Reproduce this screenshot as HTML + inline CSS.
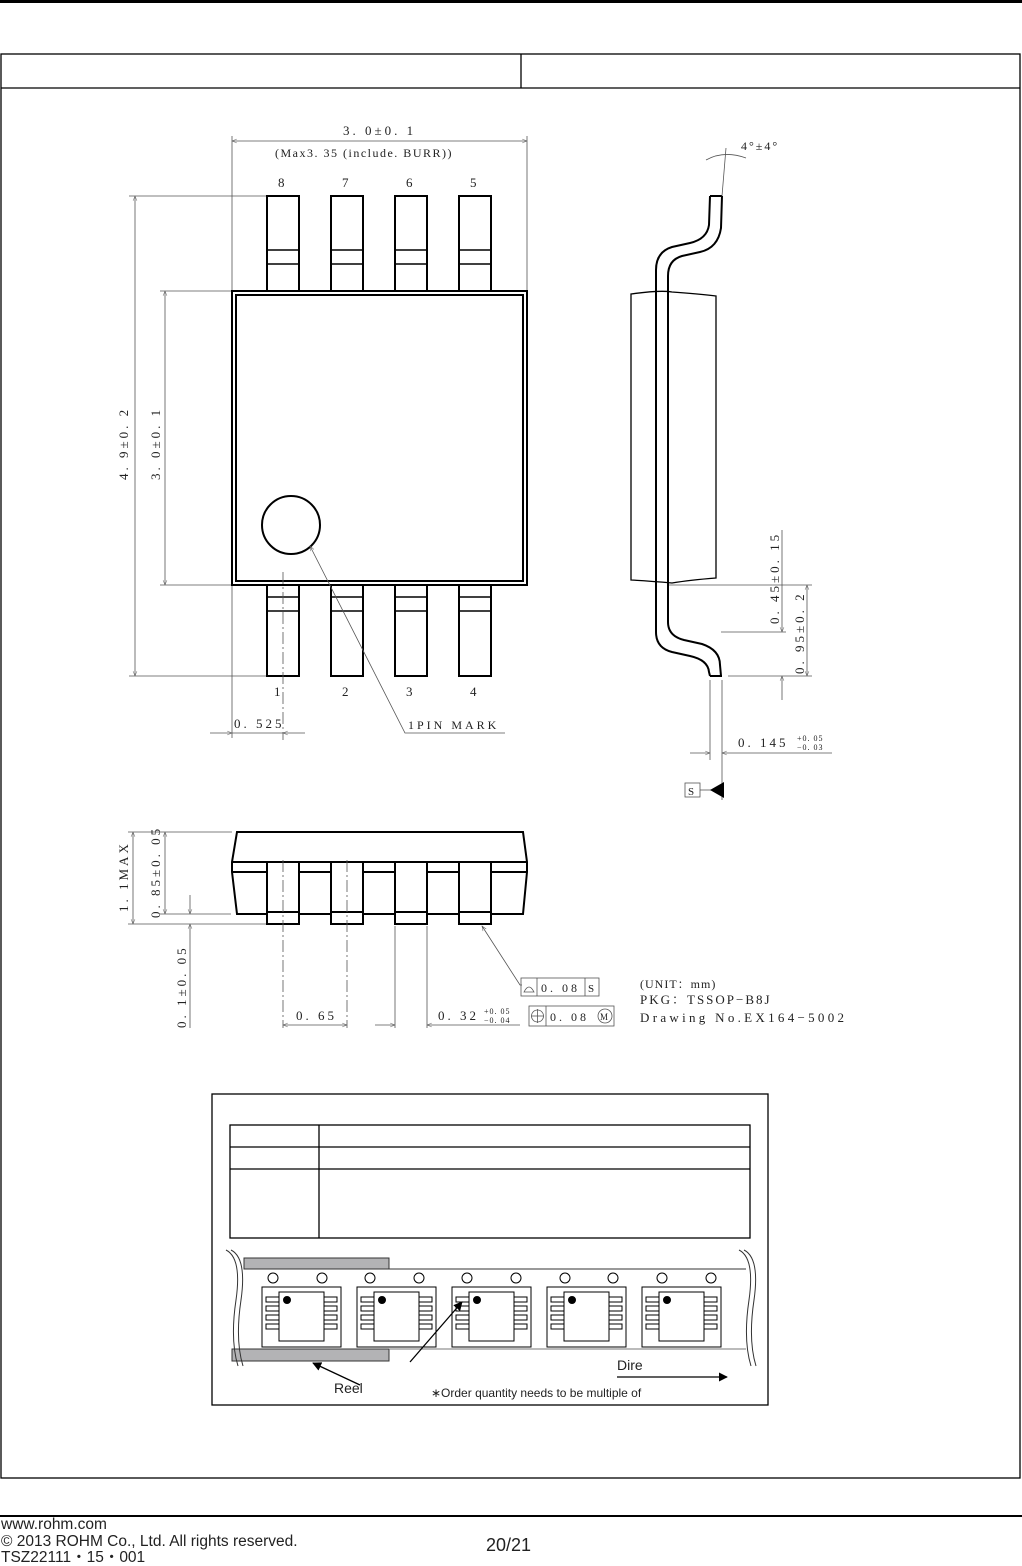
<!DOCTYPE html>
<html><head><meta charset="utf-8"><style>
html,body{margin:0;padding:0;background:#fff}
svg{display:block}
text{font-family:"Liberation Serif","Noto Serif CJK SC",serif;fill:#222}
.s{font-family:"Liberation Sans",sans-serif}
</style></head><body>
<svg width="1022" height="1566" viewBox="0 0 1022 1566" xmlns="http://www.w3.org/2000/svg">
<defs>
<marker id="a" viewBox="0 0 10 10" refX="10" refY="5" markerWidth="8" markerHeight="6" orient="auto-start-reverse"><path d="M0,1 L10,5 L0,9" fill="none" stroke="#555" stroke-width="1"/></marker>
<marker id="b" viewBox="0 0 10 10" refX="9" refY="5" markerWidth="7" markerHeight="7" orient="auto"><path d="M0,0 L10,5 L0,10z" fill="#000"/></marker>
</defs>
<rect x="0" y="0" width="1022" height="3" fill="#000"/>
<g fill="none" stroke="#000" stroke-width="1.3">
<rect x="1" y="54" width="1019" height="1424"/>
<line x1="1" y1="88" x2="1020" y2="88"/>
<line x1="521" y1="54" x2="521" y2="88"/>
</g>
<!-- top view -->
<g fill="#fff" stroke="#000" stroke-width="2">
<rect x="267" y="196" width="32" height="95"/><rect x="331" y="196" width="32" height="95"/><rect x="395" y="196" width="32" height="95"/><rect x="459" y="196" width="32" height="95"/>
<rect x="267" y="585" width="32" height="91"/><rect x="331" y="585" width="32" height="91"/><rect x="395" y="585" width="32" height="91"/><rect x="459" y="585" width="32" height="91"/>
<rect x="232" y="291" width="295" height="294"/>
<rect x="236" y="295" width="287" height="286"/>
<circle cx="291" cy="525" r="29"/>
</g>
<g stroke="#000" stroke-width="1.5">
<path d="M267 250H299M267 264H299M331 250H363M331 264H363M395 250H427M395 264H427M459 250H491M459 264H491"/>
<path d="M267 597H299M267 611H299M331 597H363M331 611H363M395 597H427M395 611H427M459 597H491M459 611H491"/>
</g>
<g stroke="#555" stroke-width="0.8" fill="none">
<line x1="283" y1="572" x2="283" y2="740" stroke-dasharray="12,3,2,3"/>
<line x1="232" y1="136" x2="232" y2="290"/><line x1="527" y1="136" x2="527" y2="290"/>
<line x1="232" y1="141" x2="527" y2="141" marker-start="url(#a)" marker-end="url(#a)"/>
<line x1="129" y1="196" x2="266" y2="196"/><line x1="129" y1="676" x2="266" y2="676"/>
<line x1="135" y1="196" x2="135" y2="676" marker-start="url(#a)" marker-end="url(#a)"/>
<line x1="160" y1="291" x2="231" y2="291"/><line x1="160" y1="585" x2="231" y2="585"/>
<line x1="165" y1="291" x2="165" y2="585" marker-start="url(#a)" marker-end="url(#a)"/>
<line x1="232" y1="586" x2="232" y2="738"/>
<line x1="210" y1="733" x2="232" y2="733" marker-end="url(#a)"/><line x1="305" y1="733" x2="283" y2="733" marker-end="url(#a)"/>
<line x1="232" y1="733" x2="283" y2="733"/>
<polyline points="310,546 405,733 505,733" marker-start="url(#a)"/>
</g>
<g font-size="13" letter-spacing="3">
<text x="343" y="135">3. 0±0. 1</text>
<text x="275" y="157" font-size="12" letter-spacing="1.5">(Max3. 35 (include. BURR))</text>
<text x="278" y="187">8</text><text x="342" y="187">7</text><text x="406" y="187">6</text><text x="470" y="187">5</text>
<text x="274" y="696">1</text><text x="342" y="696">2</text><text x="406" y="696">3</text><text x="470" y="696">4</text>
<text x="234" y="728">0. 525</text>
<text x="408" y="729" font-size="12">1PIN MARK</text>
<text transform="translate(128,480) rotate(-90)">4. 9±0. 2</text>
<text transform="translate(160,480) rotate(-90)">3. 0±0. 1</text>
</g>
<!-- side view -->
<g fill="none" stroke="#000" stroke-width="1.3">
<path d="M631 294 Q660 290 672 292 Q700 294 716 296 L716 578 Q690 580 672 583 Q650 581 631 580 Z"/>
</g>
<g fill="none" stroke="#000" stroke-width="2">
<path d="M710 196 L709 225 Q707 239 690 243 L672 247 Q656 252 656 270 L656 632 Q656 648 672 652 L690 656 Q708 660 709 672 L710 676"/>
<path d="M722 196 L721 228 Q718 248 700 252 L682 256 Q668 260 668 276 L668 622 Q668 636 684 640 L702 644 Q720 650 720 665 L721 676"/>
<path d="M710 196H722M710 676H722"/>
</g>
<g stroke="#555" stroke-width="0.8" fill="none">
<path d="M706 160 Q724 150 746 158"/><line x1="722" y1="196" x2="726" y2="148"/>
<line x1="669" y1="585" x2="812" y2="585"/><line x1="721" y1="632" x2="786" y2="632"/><line x1="728" y1="676" x2="812" y2="676"/>
<line x1="782" y1="530" x2="782" y2="632" marker-end="url(#a)"/><line x1="782" y1="700" x2="782" y2="676" marker-end="url(#a)"/>
<line x1="807" y1="585" x2="807" y2="676" marker-start="url(#a)" marker-end="url(#a)"/>
<line x1="710" y1="680" x2="710" y2="760"/><line x1="722" y1="680" x2="722" y2="800"/>
<line x1="690" y1="753" x2="710" y2="753" marker-end="url(#a)"/><line x1="832" y1="753" x2="722" y2="753" marker-end="url(#a)"/>
<rect x="685" y="783" width="15" height="14"/><line x1="700" y1="790" x2="712" y2="790"/>
</g>
<path d="M710 790 L724 782 L724 798 Z" fill="#000"/>
<g font-size="13" letter-spacing="3">
<text x="741" y="150" font-size="12" letter-spacing="2">4°±4°</text>
<text transform="translate(779,624) rotate(-90)">0. 45±0. 15</text>
<text transform="translate(804,674) rotate(-90)">0. 95±0. 2</text>
<text x="738" y="747">0. 145</text>
<text x="797" y="741" font-size="8" letter-spacing="1">+0. 05</text><text x="797" y="750" font-size="8" letter-spacing="1">−0. 03</text>
<text x="688" y="795" font-size="11" letter-spacing="0">S</text>
</g>
<!-- bottom view -->
<g fill="#fff" stroke="#000" stroke-width="2">
<path d="M237 832 H523 L527 862 V872 L523 914 H237 L232 872 V862 Z"/>
<line x1="232" y1="862" x2="527" y2="862"/><line x1="232" y1="872" x2="527" y2="872"/>
<rect x="267" y="862" width="32" height="62"/><rect x="331" y="862" width="32" height="62"/><rect x="395" y="862" width="32" height="62"/><rect x="459" y="862" width="32" height="62"/>
<path d="M267 912H299M331 912H363M395 912H427M459 912H491" fill="none"/>
</g>
<g stroke="#555" stroke-width="0.8" fill="none">
<line x1="283" y1="860" x2="283" y2="1028" stroke-dasharray="12,3,2,3"/>
<line x1="347" y1="860" x2="347" y2="1028" stroke-dasharray="12,3,2,3"/>
<line x1="395" y1="926" x2="395" y2="1028"/><line x1="427" y1="926" x2="427" y2="1028"/>
<line x1="283" y1="1025" x2="347" y2="1025" marker-start="url(#a)" marker-end="url(#a)"/>
<line x1="375" y1="1025" x2="395" y2="1025" marker-end="url(#a)"/><line x1="520" y1="1025" x2="427" y2="1025" marker-end="url(#a)"/>
<line x1="128" y1="832" x2="232" y2="832"/><line x1="128" y1="924" x2="266" y2="924"/><line x1="160" y1="914" x2="231" y2="914"/>
<line x1="133" y1="832" x2="133" y2="924" marker-start="url(#a)" marker-end="url(#a)"/>
<line x1="165" y1="832" x2="165" y2="914" marker-start="url(#a)" marker-end="url(#a)"/>
<line x1="190" y1="895" x2="190" y2="914" marker-end="url(#a)"/><line x1="190" y1="1028" x2="190" y2="924" marker-end="url(#a)"/>
<polyline points="482,926 520,985 522,985" marker-start="url(#a)"/>
<rect x="521" y="978" width="78" height="18"/><line x1="537" y1="978" x2="537" y2="996"/><line x1="585" y1="978" x2="585" y2="996"/>
<rect x="529" y="1006" width="85" height="20"/><line x1="546" y1="1006" x2="546" y2="1026"/>
<path d="M524 992 Q529 982 534 992 Z"/>
<circle cx="537.5" cy="1016" r="6"/><line x1="531" y1="1016" x2="544" y2="1016"/><line x1="537.5" y1="1009" x2="537.5" y2="1023"/>
<circle cx="605" cy="1016" r="7"/>
</g>
<g font-size="13" letter-spacing="3">
<text transform="translate(128,912) rotate(-90)">1. 1MAX</text>
<text transform="translate(160,918) rotate(-90)">0. 85±0. 05</text>
<text transform="translate(186,1028) rotate(-90)">0. 1±0. 05</text>
<text x="296" y="1020">0. 65</text>
<text x="438" y="1020">0. 32</text>
<text x="484" y="1014" font-size="8" letter-spacing="1">+0. 05</text><text x="484" y="1023" font-size="8" letter-spacing="1">−0. 04</text>
<text x="541" y="992" font-size="12">0. 08</text><text x="588" y="992" font-size="11" letter-spacing="0">S</text>
<text x="550" y="1021" font-size="12">0. 08</text><text x="600" y="1020" font-size="9" letter-spacing="0">M</text>
<text x="640" y="988" font-size="12" letter-spacing="1">(UNIT：mm)</text>
<text x="640" y="1004" letter-spacing="2">PKG：TSSOP−B8J</text>
<text x="640" y="1022" letter-spacing="3.3">Drawing No.EX164−5002</text>
</g>
<!-- taping -->
<g fill="none" stroke="#000" stroke-width="1.3">
<rect x="212" y="1094" width="556" height="311"/>
<rect x="230" y="1125" width="520" height="113"/>
<line x1="230" y1="1147" x2="750" y2="1147"/><line x1="230" y1="1169" x2="750" y2="1169"/>
<line x1="319" y1="1125" x2="319" y2="1238"/>
</g>
<rect x="244" y="1258" width="145" height="11" fill="#b3b3b5" stroke="#333"/>
<rect x="232" y="1349" width="157" height="12" fill="#b3b3b5" stroke="#333"/>
<g fill="none" stroke="#333" stroke-width="1">
<line x1="389" y1="1269" x2="746" y2="1269"/><line x1="389" y1="1349" x2="746" y2="1349" stroke="#777"/>
<path d="M226 1250 Q242 1258 236 1300 Q230 1340 238 1366"/>
<path d="M231 1250 Q247 1258 241 1300 Q235 1340 243 1366"/>
<path d="M739 1250 Q755 1258 749 1300 Q743 1340 751 1366"/>
<path d="M744 1250 Q760 1258 754 1300 Q748 1340 756 1366"/>
</g>
<g fill="#fff" stroke="#000" stroke-width="1">
<circle cx="273" cy="1278" r="5"/><circle cx="322" cy="1278" r="5"/><circle cx="370" cy="1278" r="5"/><circle cx="419" cy="1278" r="5"/><circle cx="467" cy="1278" r="5"/><circle cx="516" cy="1278" r="5"/><circle cx="565" cy="1278" r="5"/><circle cx="613" cy="1278" r="5"/><circle cx="662" cy="1278" r="5"/><circle cx="711" cy="1278" r="5"/>
</g>
<g id="p" fill="#fff" stroke="#000" stroke-width="1">
<rect x="262" y="1287" width="79" height="60"/>
<rect x="266" y="1297" width="13" height="5"/><rect x="266" y="1306" width="13" height="5"/><rect x="266" y="1315" width="13" height="5"/><rect x="266" y="1324" width="13" height="5"/>
<rect x="324" y="1297" width="13" height="5"/><rect x="324" y="1306" width="13" height="5"/><rect x="324" y="1315" width="13" height="5"/><rect x="324" y="1324" width="13" height="5"/>
<rect x="279" y="1292" width="45" height="49"/>
<circle cx="287" cy="1300" r="3.5" fill="#000"/>
</g>
<use href="#p" x="95"/><use href="#p" x="190"/><use href="#p" x="285"/><use href="#p" x="380"/>
<g stroke="#000" stroke-width="1.3">
<line x1="360" y1="1385" x2="313" y2="1363" marker-end="url(#b)"/>
<line x1="410" y1="1362" x2="462" y2="1302" marker-end="url(#b)"/>
<line x1="617" y1="1377" x2="727" y2="1377" marker-end="url(#b)"/>
</g>
<text class="s" x="334" y="1393" font-size="14">Reel</text>
<text class="s" x="617" y="1370" font-size="14">Dire</text>
<text class="s" x="431" y="1397" font-size="12">∗Order quantity needs to be multiple of</text>
<!-- footer -->
<rect x="0" y="1515" width="1022" height="2" fill="#000"/>
<text class="s" x="1" y="1529" font-size="15.5">www.rohm.com</text>
<text class="s" x="1" y="1546" font-size="15.5">© 2013 ROHM Co., Ltd. All rights reserved.</text>
<text class="s" x="1" y="1562" font-size="15.5">TSZ22111・15・001</text>
<text class="s" x="486" y="1551" font-size="18">20/21</text>
</svg>
</body></html>
